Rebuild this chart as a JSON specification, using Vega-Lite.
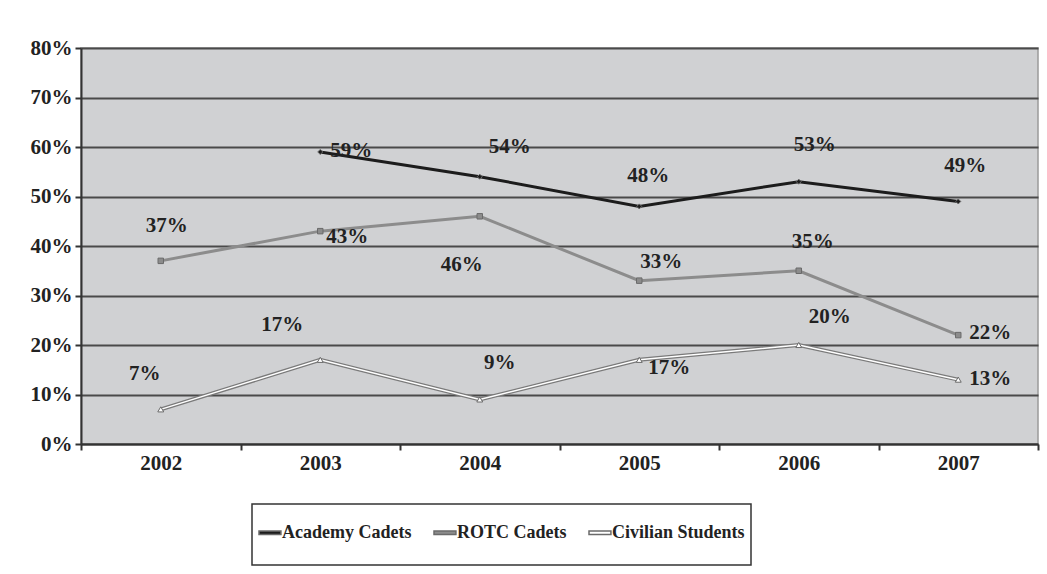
{
  "$schema": "https://vega.github.io/schema/vega-lite/v6.json",
  "width": 957,
  "height": 396,
  "autosize": {"type": "none"},
  "padding": {"left": 81, "top": 48, "right": 9, "bottom": 130},
  "background": "white",
  "config": {
    "view": {"fill": "#d0d1d3", "stroke": "#9a9a9a", "strokeWidth": 1.5},
    "font": "Liberation Serif",
    "text": {"font": "Liberation Serif", "fontWeight": "bold", "fontSize": 21, "fill": "#222222", "align": "center", "baseline": "middle"},
    "legend": {
      "orient": "none",
      "legendX": 171,
      "legendY": 456,
      "direction": "horizontal",
      "columns": 3,
      "strokeColor": "#333333",
      "strokeWidth": 1.5,
      "padding": 6,
      "columnPadding": 19,
      "labelFont": "Liberation Serif",
      "labelFontWeight": "bold",
      "labelFontSize": 18,
      "labelColor": "#222222",
      "labelOffset": -21,
      "labelLimit": 400,
      "symbolType": "M-0.5,-1.07M-0.5,1.07M-1,-0.08H0.02V0.08H-1Z",
      "symbolSize": 1849
    }
  },
  "data": {
    "values": [
      {"series": "Academy Cadets", "year": "2003", "value": 0.59},
      {"series": "Academy Cadets", "year": "2004", "value": 0.54},
      {"series": "Academy Cadets", "year": "2005", "value": 0.48},
      {"series": "Academy Cadets", "year": "2006", "value": 0.53},
      {"series": "Academy Cadets", "year": "2007", "value": 0.49},
      {"series": "ROTC Cadets", "year": "2002", "value": 0.37},
      {"series": "ROTC Cadets", "year": "2003", "value": 0.43},
      {"series": "ROTC Cadets", "year": "2004", "value": 0.46},
      {"series": "ROTC Cadets", "year": "2005", "value": 0.33},
      {"series": "ROTC Cadets", "year": "2006", "value": 0.35},
      {"series": "ROTC Cadets", "year": "2007", "value": 0.22},
      {"series": "Civilian Students", "year": "2002", "value": 0.07},
      {"series": "Civilian Students", "year": "2003", "value": 0.17},
      {"series": "Civilian Students", "year": "2004", "value": 0.09},
      {"series": "Civilian Students", "year": "2005", "value": 0.17},
      {"series": "Civilian Students", "year": "2006", "value": 0.20},
      {"series": "Civilian Students", "year": "2007", "value": 0.13}
    ]
  },
  "encoding": {
    "x": {
      "field": "year",
      "type": "ordinal",
      "scale": {"type": "band", "domain": ["2002", "2003", "2004", "2005", "2006", "2007"], "paddingInner": 0, "paddingOuter": 0},
      "axis": {
        "title": null,
        "labelAngle": 0,
        "tickBand": "extent",
        "ticks": true,
        "tickSize": 6,
        "tickColor": "#333333",
        "tickWidth": 2,
        "domainColor": "#333333",
        "domainWidth": 2,
        "grid": false,
        "labelFont": "Liberation Serif",
        "labelFontSize": 21,
        "labelFontWeight": "bold",
        "labelColor": "#222222",
        "labelPadding": 2
      }
    },
    "y": {
      "field": "value",
      "type": "quantitative",
      "scale": {"domain": [0, 0.8], "nice": false},
      "axis": {
        "title": null,
        "format": ".0%",
        "values": [0, 0.1, 0.2, 0.3, 0.4, 0.5, 0.6, 0.7, 0.8],
        "grid": true,
        "gridColor": "#4a4a4a",
        "gridWidth": 2,
        "domainColor": "#333333",
        "domainWidth": 2,
        "tickColor": "#333333",
        "tickWidth": 2,
        "tickSize": 6,
        "labelFont": "Liberation Serif",
        "labelFontSize": 21,
        "labelFontWeight": "bold",
        "labelColor": "#222222",
        "labelPadding": 3
      }
    }
  },
  "layer": [
    {
      "transform": [{"filter": "datum.series === 'Academy Cadets'"}],
      "mark": {"type": "line", "stroke": "#1c1c1c", "strokeWidth": 3},
      "encoding": {}
    },
    {
      "transform": [{"filter": "datum.series === 'ROTC Cadets'"}],
      "mark": {"type": "line", "stroke": "#8c8c8c", "strokeWidth": 3},
      "encoding": {}
    },
    {
      "transform": [{"filter": "datum.series === 'Civilian Students'"}],
      "mark": {"type": "line", "stroke": "#7a7a7a", "strokeWidth": 4},
      "encoding": {}
    },
    {
      "transform": [{"filter": "datum.series === 'Civilian Students'"}],
      "mark": {"type": "line", "stroke": "#ffffff", "strokeWidth": 1.5},
      "encoding": {}
    },
    {
      "transform": [{"filter": "datum.series === 'Academy Cadets'"}],
      "mark": {"type": "point", "shape": "diamond", "filled": true, "size": 25, "stroke": "#6a6a6a", "strokeWidth": 1, "opacity": 1},
      "encoding": {
        "color": {
          "field": "series",
          "type": "nominal",
          "scale": {"domain": ["Academy Cadets", "ROTC Cadets", "Civilian Students"], "range": ["#1c1c1c", "#8c8c8c", "#ffffff"]},
          "legend": {"title": null, "symbolType": "M-0.5,-1.07M-0.5,1.07M-1,-0.08H0.02V0.08H-1Z", "symbolSize": 1849}
        }
      }
    },
    {
      "transform": [{"filter": "datum.series === 'ROTC Cadets'"}],
      "mark": {"type": "point", "shape": "square", "filled": true, "size": 30, "stroke": "#6a6a6a", "strokeWidth": 1, "opacity": 1},
      "encoding": {"color": {"field": "series", "type": "nominal"}}
    },
    {
      "transform": [{"filter": "datum.series === 'Civilian Students'"}],
      "mark": {"type": "point", "shape": "triangle-up", "filled": true, "size": 35, "stroke": "#6a6a6a", "strokeWidth": 1, "opacity": 1},
      "encoding": {"color": {"field": "series", "type": "nominal"}}
    },
    {"transform": [{"filter": "datum.series === 'Academy Cadets' && datum.year === '2003'"}], "mark": {"type": "text", "dx": 31, "dy": -1}, "encoding": {"text": {"field": "value", "type": "quantitative", "format": ".0%"}}},
    {"transform": [{"filter": "datum.series === 'Academy Cadets' && datum.year === '2004'"}], "mark": {"type": "text", "dx": 30, "dy": -30}, "encoding": {"text": {"field": "value", "type": "quantitative", "format": ".0%"}}},
    {"transform": [{"filter": "datum.series === 'Academy Cadets' && datum.year === '2005'"}], "mark": {"type": "text", "dx": 9, "dy": -30}, "encoding": {"text": {"field": "value", "type": "quantitative", "format": ".0%"}}},
    {"transform": [{"filter": "datum.series === 'Academy Cadets' && datum.year === '2006'"}], "mark": {"type": "text", "dx": 16, "dy": -37}, "encoding": {"text": {"field": "value", "type": "quantitative", "format": ".0%"}}},
    {"transform": [{"filter": "datum.series === 'Academy Cadets' && datum.year === '2007'"}], "mark": {"type": "text", "dx": 7, "dy": -35}, "encoding": {"text": {"field": "value", "type": "quantitative", "format": ".0%"}}},
    {"transform": [{"filter": "datum.series === 'ROTC Cadets' && datum.year === '2002'"}], "mark": {"type": "text", "dx": 6, "dy": -35}, "encoding": {"text": {"field": "value", "type": "quantitative", "format": ".0%"}}},
    {"transform": [{"filter": "datum.series === 'ROTC Cadets' && datum.year === '2003'"}], "mark": {"type": "text", "dx": 27, "dy": 6}, "encoding": {"text": {"field": "value", "type": "quantitative", "format": ".0%"}}},
    {"transform": [{"filter": "datum.series === 'ROTC Cadets' && datum.year === '2004'"}], "mark": {"type": "text", "dx": -18, "dy": 49}, "encoding": {"text": {"field": "value", "type": "quantitative", "format": ".0%"}}},
    {"transform": [{"filter": "datum.series === 'ROTC Cadets' && datum.year === '2005'"}], "mark": {"type": "text", "dx": 22, "dy": -19}, "encoding": {"text": {"field": "value", "type": "quantitative", "format": ".0%"}}},
    {"transform": [{"filter": "datum.series === 'ROTC Cadets' && datum.year === '2006'"}], "mark": {"type": "text", "dx": 14, "dy": -29}, "encoding": {"text": {"field": "value", "type": "quantitative", "format": ".0%"}}},
    {"transform": [{"filter": "datum.series === 'ROTC Cadets' && datum.year === '2007'"}], "mark": {"type": "text", "dx": 32, "dy": -2}, "encoding": {"text": {"field": "value", "type": "quantitative", "format": ".0%"}}},
    {"transform": [{"filter": "datum.series === 'Civilian Students' && datum.year === '2002'"}], "mark": {"type": "text", "dx": -16, "dy": -35}, "encoding": {"text": {"field": "value", "type": "quantitative", "format": ".0%"}}},
    {"transform": [{"filter": "datum.series === 'Civilian Students' && datum.year === '2003'"}], "mark": {"type": "text", "dx": -38, "dy": -35}, "encoding": {"text": {"field": "value", "type": "quantitative", "format": ".0%"}}},
    {"transform": [{"filter": "datum.series === 'Civilian Students' && datum.year === '2004'"}], "mark": {"type": "text", "dx": 20, "dy": -36}, "encoding": {"text": {"field": "value", "type": "quantitative", "format": ".0%"}}},
    {"transform": [{"filter": "datum.series === 'Civilian Students' && datum.year === '2005'"}], "mark": {"type": "text", "dx": 30, "dy": 8}, "encoding": {"text": {"field": "value", "type": "quantitative", "format": ".0%"}}},
    {"transform": [{"filter": "datum.series === 'Civilian Students' && datum.year === '2006'"}], "mark": {"type": "text", "dx": 31, "dy": -28}, "encoding": {"text": {"field": "value", "type": "quantitative", "format": ".0%"}}},
    {"transform": [{"filter": "datum.series === 'Civilian Students' && datum.year === '2007'"}], "mark": {"type": "text", "dx": 32, "dy": -1}, "encoding": {"text": {"field": "value", "type": "quantitative", "format": ".0%"}}}
  ]
}
